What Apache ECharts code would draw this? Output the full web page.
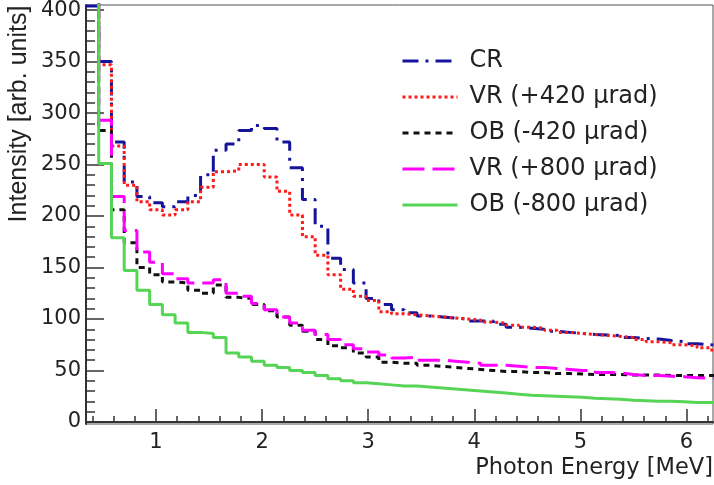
<!DOCTYPE html>
<html><head><meta charset="utf-8">
<script src="https://cdn.jsdelivr.net/npm/echarts@6/dist/echarts.min.js"></script>
<style>html,body{margin:0;padding:0;background:#fff}#c{width:714px;height:485px}</style>
</head><body><div id="c"></div>
<script>
// Histogram bin edges (MeV)
const binEdges = [0.34,0.46,0.58,0.70,0.82,0.94,1.06,1.18,1.30,1.42,1.54,1.66,1.78,1.90,2.02,2.14,2.26,2.38,2.50,2.62,2.74,2.86,2.98,3.10,3.22,3.34,3.46,3.58,3.70,3.82,3.94,4.06,4.18,4.30,4.42,4.54,4.66,4.78,4.90,5.02,5.14,5.26,5.38,5.50,5.62,5.74,5.86,5.98,6.10,6.22,6.34];
const seriesNames = ['CR','VR (+420 µrad)','OB (-420 µrad)','VR (+800 µrad)','OB (-800 µrad)'];
const cr = [404,350,272,233,219,213,209,214,220,240,
  264,270,283,288,285,272,247,216,190,159,
  148,135,120,114,109,106,103,102,101,100,
  98,98,95,92,91,90,88,87,86,85,
  84.5,84,82,81,80.5,79,78,76,75,74];
const vr420 = [430,347,268,230,214,206,201,206,214,228,
  243,244,250,250,238,224,201,180,162,143,
  129,122,118,107,105,104,103,102,101,100,
  99,97,96,94,92,91,89,87,86,85,
  84,83,82,80,78,77,75,74,72,70];
const ob420 = [430,283,206,174,150,143,136,135,128,125,
  133,121,120,114,108,102,94,88,80,74,
  72,67,63,58,57,57,55,54,53,52,
  51,50,49,49,48,48,47,47,46.5,46,
  46,46,45.5,45.5,45.5,45,45,45,45,45];
const vr800 = [430,293,219,186,165,155,144,139,135,135,
  138,125,122,115,109,102,96,89,85,80,
  75,71,68,65,62,63,60,60,59,58,
  57,55,55,54,53,53,52,51,50,50,
  48,47.5,46,45,45,44.5,44,43,42.5,42];
const ob800 = [430,251,179,147,128,114,104,96,87,86,
  82,67,63,59,55,53,50,48,45,42,
  40,38,37,36,35,35,34,33,32,31,
  30,29,28,27,26,25.5,25,24.5,24,23,
  22.5,22,21,20.5,20,20,19.5,19,19,18.5];
const xTickLabels = [1,2,3,4,5,6];
const xMinorTicks = [0.4,0.6,0.8,1.2,1.4,1.6,1.8,2.2,2.4,2.6,2.8,3.2,3.4,3.6,3.8,4.2,4.4,4.6,4.8,5.2,5.4,5.6,5.8,6.2];
const yTickLabels = [0,50,100,150,200,250,300,350,400];
const yMinorTicks = [10,20,30,40,60,70,80,90,110,120,130,140,160,170,180,190,210,220,230,240,260,270,280,290,310,320,330,340,360,370,380,390];

function steps(vals){
  const pts = vals.map((v,i)=>[binEdges[i], v]);
  pts.push([binEdges[vals.length], vals[vals.length-1]]);
  return pts;
}
const styles = [
  {color:'#14149a', type:[16,7,3,7]},
  {color:'#ff1a1a', type:[3,3]},
  {color:'#111111', type:[6,5]},
  {color:'#ff00ff', type:[22,8]},
  {color:'#55d455', type:'solid'}
];
const dataSets = [cr, vr420, ob420, vr800, ob800];
const axisColor = '#333';
const chart = echarts.init(document.getElementById('c'));
chart.setOption({
  animation:false,
  backgroundColor:'#fff',
  grid:{left:86, right:1, top:5, bottom:61, show:true, borderColor:'#555', borderWidth:1, containLabel:false, outerBoundsMode:'none'},
  xAxis:[
    {type:'value', min:0.34, max:6.25,
     axisLine:{lineStyle:{color:axisColor, width:2}},
     axisTick:{inside:true, length:13, customValues:xTickLabels, lineStyle:{color:axisColor, width:1.5}},
     axisLabel:{customValues:xTickLabels, fontFamily:'DejaVu Sans', fontSize:21, color:'#222', margin:8},
     splitLine:{show:false}},
    {type:'value', min:0.34, max:6.25, position:'bottom',
     axisLine:{show:false},
     axisTick:{inside:true, length:6, customValues:xMinorTicks, lineStyle:{color:axisColor, width:1.5}},
     axisLabel:{show:false}, splitLine:{show:false}}
  ],
  yAxis:[
    {type:'value', min:-2, max:405,
     axisLine:{show:true, lineStyle:{color:axisColor, width:2}},
     axisTick:{show:true, inside:true, length:18, customValues:yTickLabels, lineStyle:{color:axisColor, width:1.5}},
     axisLabel:{customValues:yTickLabels, fontFamily:'DejaVu Sans', fontSize:21, color:'#222', margin:5},
     splitLine:{show:false}},
    {type:'value', min:-2, max:405, position:'left',
     axisLine:{show:false},
     axisTick:{show:true, inside:true, length:9, customValues:yMinorTicks, lineStyle:{color:axisColor, width:1.5}},
     axisLabel:{show:false}, splitLine:{show:false}}
  ],
  legend:{
    orient:'vertical', left:396, top:44, itemWidth:55, itemHeight:12, itemGap:12,
    data:seriesNames,
    itemStyle:{opacity:0, borderWidth:0},
    lineStyle:{width:3},
    textStyle:{fontFamily:'DejaVu Sans', fontSize:24, color:'#222', lineHeight:24, padding:[0,0,0,7]}
  },
  series: dataSets.map((d,i)=>({
    name:seriesNames[i], type:'line', step:'end', symbol:'none', showSymbol:false,
    xAxisIndex:0, yAxisIndex:0,
    data:steps(d),
    itemStyle:{color:styles[i].color},
    lineStyle:{color:styles[i].color, width:3, type:styles[i].type, cap:'butt'},
    z: 2+i
  })),
  graphic:[
    {type:'text', x:19, y:114, rotation:Math.PI/2,
     style:{text:'Intensity [arb. units]', fontFamily:'Liberation Sans', fontSize:25, fill:'#222', align:'center', verticalAlign:'middle'}},
    {type:'text', x:713, y:468,
     style:{text:'Photon Energy [MeV]', fontFamily:'DejaVu Sans', fontSize:22.5, fill:'#222', align:'right', verticalAlign:'middle'}}
  ]
});
</script>
</body></html>
